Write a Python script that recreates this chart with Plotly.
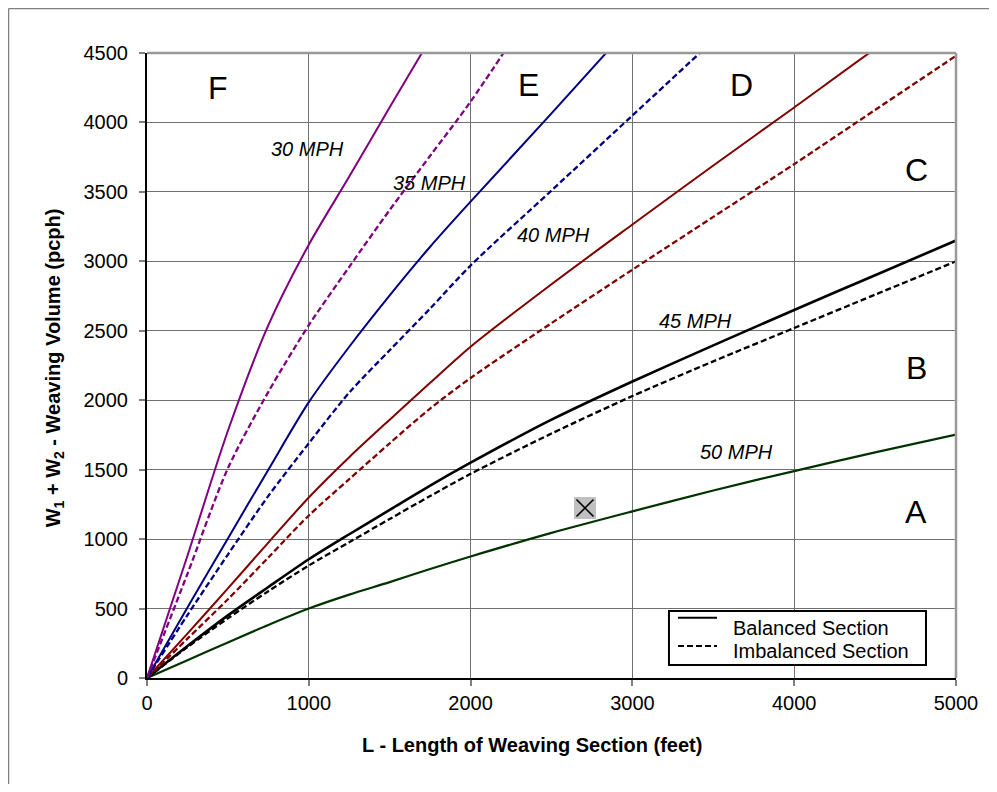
import plotly.graph_objects as go

# Length of weaving section (feet)
L = [0, 250, 500, 750, 1000, 1250, 1500, 1750, 2000, 2500, 3000, 3500, 4000, 4500, 5000]

# Weaving volume (pcph), balanced (solid) / imbalanced (dashed)
mph30_bal = [0, 880, 1780, 2540, 3120, 3610, 4110, 4600, 5090, None, None, None, None, None, None]
mph30_imb = [0, 750, 1510, 2060, 2540, 2960, 3370, 3760, 4150, 5025, None, None, None, None, None]
mph35_bal = [0, 508, 1005, 1500, 1986, 2385, 2755, 3105, 3430, 4065, 4710, None, None, None, None]
mph35_imb = [0, 453, 889, 1311, 1690, 2055, 2360, 2660, 2970, 3510, 4050, 4590, None, None, None]
mph40_bal = [0, 320, 645, 975, 1300, 1590, 1860, 2125, 2385, 2835, 3265, 3690, 4108, 4530, 4930]
mph40_imb = [0, 283, 567, 868, 1170, 1432, 1690, 1940, 2160, 2555, 2940, 3320, 3700, 4090, 4480]
mph45_bal = [0, 230, 451, 655, 855, 1035, 1210, 1385, 1550, 1860, 2135, 2395, 2650, 2900, 3150]
mph45_imb = [0, 222, 430, 625, 810, 978, 1145, 1310, 1470, 1760, 2030, 2280, 2520, 2760, 3000]
mph50_bal = [0, 128, 256, 382, 500, 600, 690, 785, 875, 1045, 1200, 1350, 1490, 1625, 1752]

# Marked point
point_L = [2707]
point_V = [1224]

# Speed labels
speed_text = ["30 MPH", "35 MPH", "40 MPH", "45 MPH", "50 MPH"]
speed_L = [995, 1743, 2512, 3387, 3645]
speed_V = [3808, 3564, 3189, 2570, 1629]

# LOS region labels
los_text = ["F", "E", "D", "C", "B", "A"]
los_L = [439, 2355, 3677, 4753, 4753, 4753]
los_V = [4248, 4270, 4270, 3657, 2232, 1195]

# Legend entries
legend_text = ["Balanced Section", "Imbalanced Section"]
legend_dash = ["solid", "6px,3px"]

x_ticks = [0, 1000, 2000, 3000, 4000, 5000]
y_ticks = [0, 500, 1000, 1500, 2000, 2500, 3000, 3500, 4000, 4500]

FONT = "Liberation Sans, Arial, sans-serif"
DASH = "6px,3px"

fig = go.Figure()

series = [
    (mph50_bal, "#003300", "solid", 2.2),
    (mph45_imb, "#000000", DASH, 2.3),
    (mph45_bal, "#000000", "solid", 2.6),
    (mph40_imb, "#800000", DASH, 2.3),
    (mph40_bal, "#800000", "solid", 2),
    (mph35_imb, "#000080", DASH, 2.3),
    (mph35_bal, "#000080", "solid", 2),
    (mph30_imb, "#800080", DASH, 2.3),
    (mph30_bal, "#800080", "solid", 2),
]
for vals, col, dash, w in series:
    fig.add_trace(go.Scatter(x=L, y=vals, mode="lines", showlegend=False,
                             line=dict(color=col, dash=dash, width=w,
                                       shape="spline", smoothing=0.8),
                             hoverinfo="skip"))

# marked point: grey square with an X
fig.add_trace(go.Scatter(x=point_L, y=point_V, mode="markers", showlegend=False,
                         marker=dict(symbol="square", size=22, color="#c0c0c0",
                                     line=dict(width=0))))
fig.add_trace(go.Scatter(x=point_L, y=point_V, mode="markers", showlegend=False,
                         marker=dict(symbol="x-thin", size=17,
                                     line=dict(width=1.6, color="#000000"))))

annotations = []
for t, xv, yv in zip(speed_text, speed_L, speed_V):
    annotations.append(dict(x=xv, y=yv, xref="x", yref="y", text="<i>" + t + "</i>",
                            showarrow=False, font=dict(family=FONT, size=20, color="black")))
for t, xv, yv in zip(los_text, los_L, los_V):
    annotations.append(dict(x=xv, y=yv, xref="x", yref="y", text=t,
                            showarrow=False, font=dict(family=FONT, size=32, color="black")))

annotations.append(dict(x=0.476, y=-0.107, xref="paper", yref="paper",
                        text="<b>L - Length of Weaving Section (feet)</b>",
                        showarrow=False, xanchor="center", yanchor="middle",
                        font=dict(family=FONT, size=20, color="black")))
annotations.append(dict(x=-0.115, y=0.497, xref="paper", yref="paper",
                        text="<b>W<sub>1</sub> + W<sub>2</sub> - Weaving Volume (pcph)</b>",
                        showarrow=False, xanchor="center", yanchor="middle", textangle=-90,
                        font=dict(family=FONT, size=20, color="black")))

shapes = [
    # outer chart border (left and top visible)
    dict(type="line", xref="paper", yref="paper", x0=-0.1712, y0=-0.4, x1=-0.1712, y1=1.0712,
         line=dict(color="#808080", width=1.5), layer="below"),
    dict(type="line", xref="paper", yref="paper", x0=-0.1712, y0=1.0712, x1=1.2, y1=1.0712,
         line=dict(color="#808080", width=1.5), layer="below"),
    # grey top/right border of plot area
    dict(type="line", xref="paper", yref="paper", x0=0, y0=1, x1=1, y1=1,
         line=dict(color="#999999", width=2.5)),
    dict(type="line", xref="paper", yref="paper", x0=1, y0=0, x1=1, y1=1,
         line=dict(color="#999999", width=2.5)),
    # legend box
    dict(type="rect", xref="paper", yref="paper", x0=0.6452, y0=0.0208, x1=0.9629, y1=0.1072,
         line=dict(color="black", width=2), fillcolor="white", layer="above"),
]

legend_line_y = [0.0965, 0.0512]
legend_text_y = [0.080, 0.0432]
for t, d, ly, ty in zip(legend_text, legend_dash, legend_line_y, legend_text_y):
    shapes.append(dict(type="line", xref="paper", yref="paper", x0=0.6564, x1=0.7046,
                       y0=ly, y1=ly, line=dict(color="black", width=2, dash=d),
                       layer="above"))
    annotations.append(dict(x=0.7219, y=ty, xref="paper", yref="paper", text=t,
                            showarrow=False, xanchor="left", yanchor="middle",
                            font=dict(family=FONT, size=20, color="black")))

axis_common = dict(showgrid=True, gridcolor="#707070", gridwidth=1, zeroline=False,
                   ticks="outside", ticklen=6, tickcolor="#808080", tickwidth=1.5,
                   showline=True, linecolor="black", linewidth=2,
                   tickfont=dict(family=FONT, size=20, color="black"))

fig.update_layout(
    width=981, height=776,
    margin=dict(l=139, r=33, t=45, b=106),
    paper_bgcolor="white", plot_bgcolor="white",
    font=dict(family=FONT, size=20, color="black"),
    showlegend=False,
    xaxis=dict(range=[0, 5000], tickvals=x_ticks, **axis_common),
    yaxis=dict(range=[0, 4500], tickvals=y_ticks, ticklabelstandoff=7, **axis_common),
    annotations=annotations,
    shapes=shapes,
)

fig.write_html("out.html")
